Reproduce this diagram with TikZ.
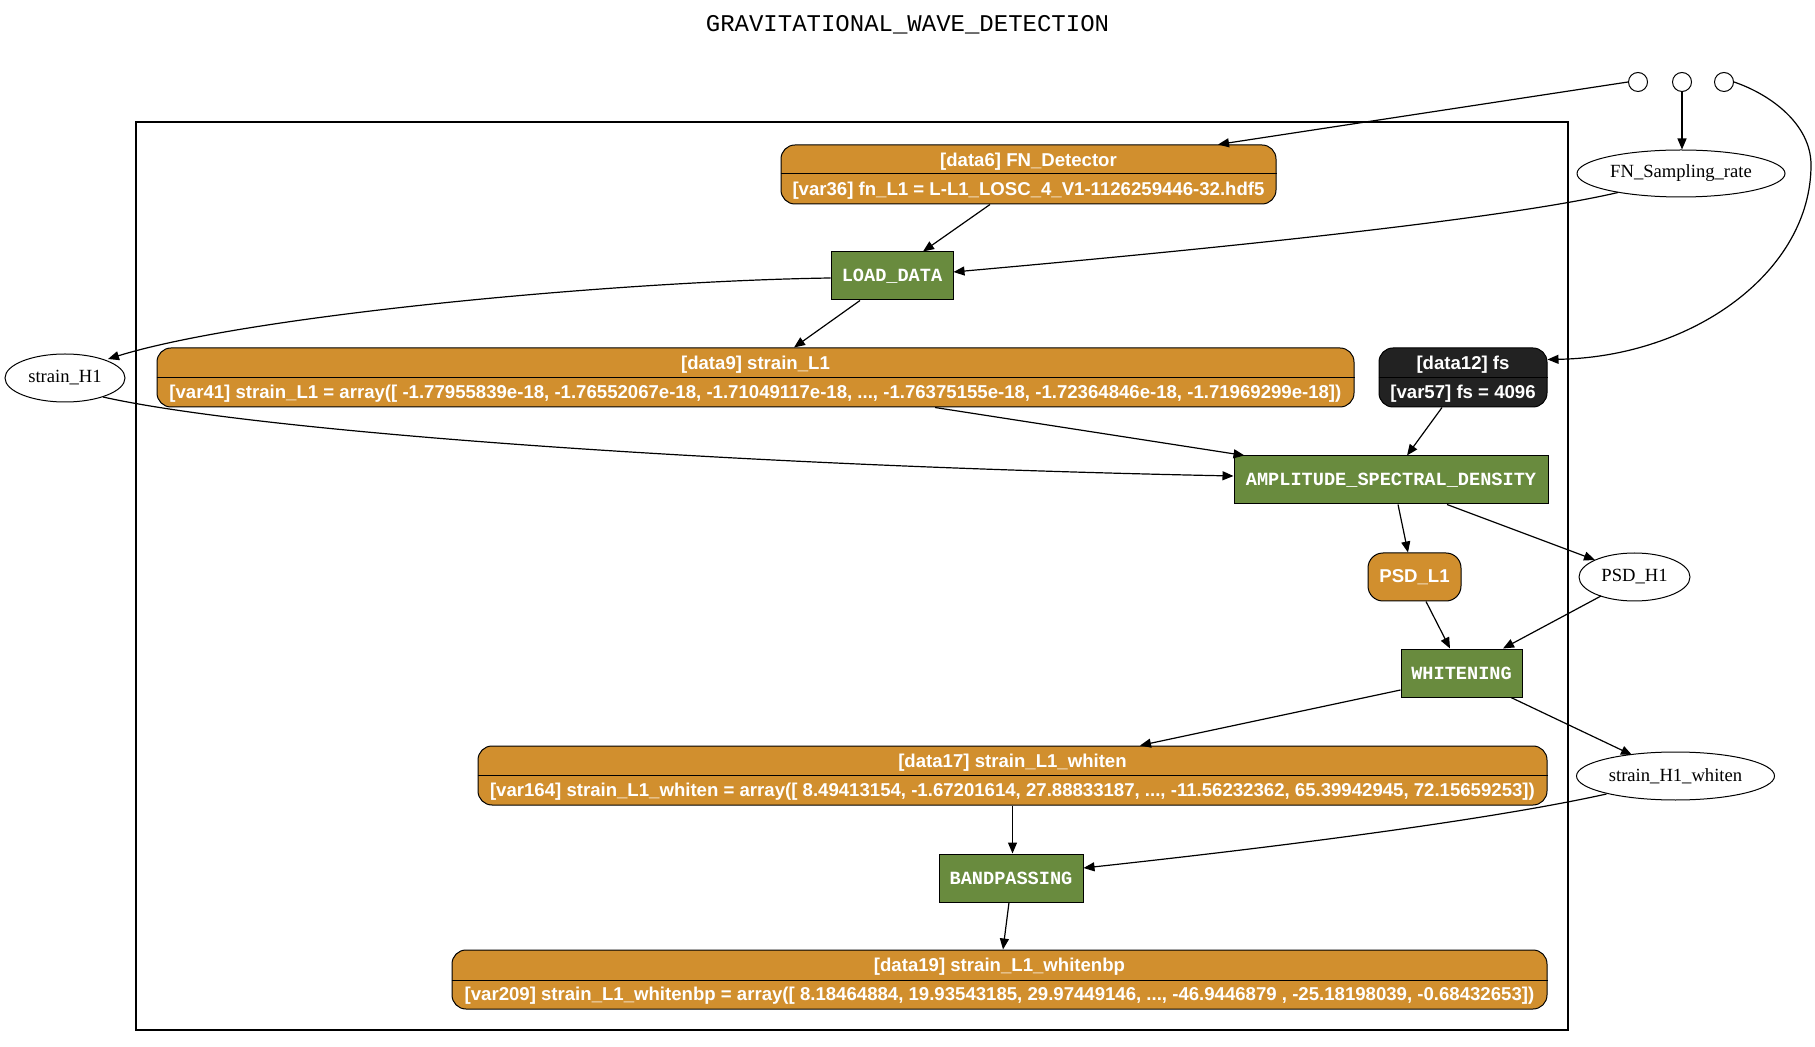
\documentclass[tikz,border=0pt]{standalone}
\usepackage{fontspec}
\setmainfont{Liberation Serif}
\newfontfamily\helv{Liberation Sans}
\newfontfamily\cour{Liberation Mono}
\usetikzlibrary{arrows.meta,shapes.geometric,calc}
\definecolor{orng}{RGB}{209,143,46}
\definecolor{grn}{RGB}{105,139,62}
\definecolor{blk}{RGB}{34,34,34}
\begin{document}
\begin{tikzpicture}[x=0.5pt,y=-0.5pt,
 rec/.style={draw=black, line width=0.5pt, rounded corners=7pt, fill=orng, inner sep=0pt},
 rectxt/.style={inner sep=0pt, yshift=-0.75pt, text=white, font=\helv\bfseries\fontsize{9.3}{11}\selectfont},
 proc/.style={draw=black, line width=0.5pt, fill=grn, inner sep=0pt, text=white, font=\cour\bfseries\fontsize{9.3}{11}\selectfont},
 ell/.style={draw=black, line width=0.5pt, ellipse, inner sep=0pt, font=\fontsize{9.3}{11}\selectfont},
 ctr/.style={draw=black, line width=0.5pt, circle, minimum size=9.5pt, inner sep=0pt},
 conn/.style={draw=black, line width=0.6pt, -{Triangle[length=5.5pt,width=4.5pt]}},
 divl/.style={draw=black, line width=0.5pt},
]
\useasboundingbox (0,0) rectangle (1815,1047);

\node[font=\cour\fontsize{12}{14}\selectfont, inner sep=0pt] (title) at (907.5,25) {GRAVITATIONAL\_WAVE\_DETECTION};

\node[draw=black, line width=1pt, minimum width=716pt, minimum height=453.5pt, inner sep=0pt] (cluster) at (851.5,576) {};

% small circles
\node[ctr] (c1) at (1638,82) {};
\node[ctr] (c2) at (1682,82) {};
\node[ctr] (c3) at (1724,82) {};

% ellipses
\node[ell, minimum width=104pt, minimum height=23.5pt] (fnsr) at (1681,173.5) {FN\_Sampling\_rate};
\node[ell, minimum width=60pt, minimum height=24pt] (sh1) at (65,378) {strain\_H1};
\node[ell, minimum width=55.5pt, minimum height=24pt] (psdh1) at (1634.5,577) {PSD\_H1};
\node[ell, minimum width=99pt, minimum height=24pt] (shw) at (1675.5,776) {strain\_H1\_whiten};

% data6
\node[rec, minimum width=247.5pt, minimum height=29.5pt] (d6) at (1028.5,174.5) {};
\draw[divl] (d6.west |- 0,174) -- (d6.east |- 0,174);
\node[rectxt] (d6a) at (1028.5,160) {[data6] FN\_Detector};
\node[rectxt] (d6b) at (1028.5,189.5) {[var36] fn\_L1 = L-L1\_LOSC\_4\_V1-1126259446-32.hdf5};

% LOAD_DATA
\node[proc, minimum width=61pt, minimum height=24pt] (load) at (892,276) {LOAD\_DATA};

% data9
\node[rec, minimum width=598.5pt, minimum height=29.5pt] (d9) at (755.5,377.5) {};
\draw[divl] (d9.west |- 0,378) -- (d9.east |- 0,378);
\node[rectxt] (d9a) at (755.5,363) {[data9] strain\_L1};
\node[rectxt] (d9b) at (755.5,392.5) {[var41] strain\_L1 = array([ -1.77955839e-18, -1.76552067e-18, -1.71049117e-18, ..., -1.76375155e-18, -1.72364846e-18, -1.71969299e-18])};

% data12
\node[rec, fill=blk, minimum width=84pt, minimum height=29.5pt] (d12) at (1463,377.5) {};
\draw[divl] (d12.west |- 0,378) -- (d12.east |- 0,378);
\node[rectxt] (d12a) at (1463,363) {[data12] fs};
\node[rectxt] (d12b) at (1463,392.5) {[var57] fs = 4096};

% ASD
\node[proc, minimum width=157pt, minimum height=24pt] (asd) at (1391,480) {AMPLITUDE\_SPECTRAL\_DENSITY};

% PSD_L1
\node[rec, rounded corners=7.5pt, minimum width=46.5pt, minimum height=24pt, text=white, font=\helv\bfseries\fontsize{9.3}{11}\selectfont] (psdl1) at (1414.5,577) {PSD\_L1};

% WHITENING
\node[proc, minimum width=60.5pt, minimum height=24pt] (whiten) at (1461.5,673) {WHITENING};

% data17
\node[rec, minimum width=534.5pt, minimum height=29.5pt] (d17) at (1012.5,775.5) {};
\draw[divl] (d17.west |- 0,775.5) -- (d17.east |- 0,775.5);
\node[rectxt] (d17a) at (1012.5,761) {[data17] strain\_L1\_whiten};
\node[rectxt] (d17b) at (1012.5,790.5) {[var164] strain\_L1\_whiten = array([ 8.49413154, -1.67201614, 27.88833187, ..., -11.56232362, 65.39942945, 72.15659253])};

% BANDPASSING
\node[proc, minimum width=72pt, minimum height=24pt] (band) at (1011,878) {BANDPASSING};

% data19
\node[rec, minimum width=547.5pt, minimum height=29.5pt] (d19) at (999.5,979.5) {};
\draw[divl] (d19.west |- 0,980) -- (d19.east |- 0,980);
\node[rectxt] (d19a) at (999.5,965) {[data19] strain\_L1\_whitenbp};
\node[rectxt] (d19b) at (999.5,994.5) {[var209] strain\_L1\_whitenbp = array([ 8.18464884, 19.93543185, 29.97449146, ..., -46.9446879 , -25.18198039, -0.68432653])};

% edges
\draw[conn] (c1.west) -- ($(d6.north)+(189.5,0)$);
\draw[conn] (c2.south) -- (c2.south |- fnsr.north);
\draw[conn] (c3.east) .. controls (1772,95) and (1811,125) .. (1811,165) .. controls (1811,271) and (1694,357) .. ($(d12.north east)+(0,12)$);
\draw[conn] ($(fnsr.center)+(-63,19)$) .. controls (1500,220) and (1200,250) .. ($(load.east)+(0,-4)$);
\draw[conn] ($(d6.south)+(-38.5,0)$) -- ($(load.north)+(31,0)$);
\draw[conn] ($(load.west)+(0,2)$) .. controls (620,281) and (250,315) .. ($(sh1.center)+(43,-19)$);
\draw[conn] ($(load.south)+(-32,0)$) -- ($(d9.north)+(38.5,0)$);
\draw[conn] ($(d9.south)+(179.5,0)$) -- ($(asd.north west)+(11,0)$);
\draw[conn] ($(sh1.center)+(38,19)$) .. controls (250,430) and (700,465) .. ($(asd.west)+(0,-4)$);
\draw[conn] ($(d12.south)+(-21,0)$) -- ($(asd.north)+(16,0)$);
\draw[conn] ($(asd.south)+(7,0)$) -- ($(psdl1.north)+(-6.5,0)$);
\draw[conn] ($(asd.south)+(56,0)$) -- ($(psdh1.center)+(-39.5,-17)$);
\draw[conn] ($(psdl1.south)+(11.5,0)$) -- ($(whiten.north)+(-11.5,0)$);
\draw[conn] ($(psdh1.center)+(-33.5,19)$) -- ($(whiten.north)+(41.5,0)$);
\draw[conn] ($(whiten.west)+(0,17)$) -- ($(d17.north)+(127.5,0)$);
\draw[conn] ($(whiten.south)+(49.5,0)$) -- ($(shw.center)+(-43.5,-21)$);
\draw[conn] (d17.south) -- (d17.south |- band.north);
\draw[conn] ($(shw.center)+(-69,18)$) .. controls (1480,822) and (1250,850) .. ($(band.east)+(0,-10)$);
\draw[conn] ($(band.south)+(-2,0)$) -- ($(d19.north)+(3.5,0)$);
\end{tikzpicture}
\end{document}
